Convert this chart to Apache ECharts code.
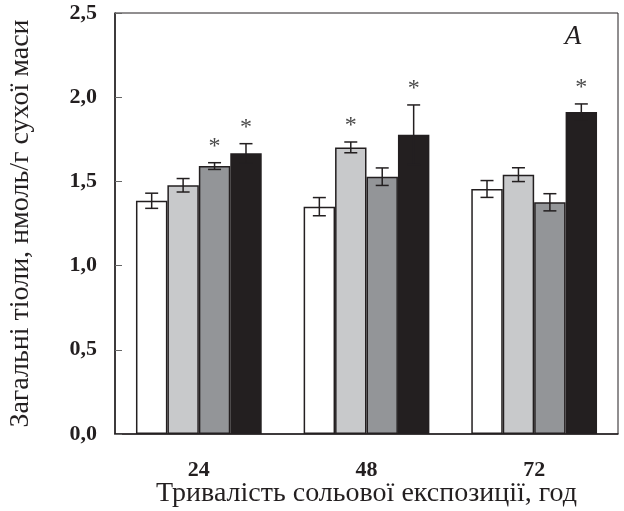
<!DOCTYPE html>
<html>
<head>
<meta charset="utf-8">
<script src="https://cdn.jsdelivr.net/npm/echarts@6/dist/echarts.min.js"></script>
<style>html,body{margin:0;padding:0;background:#fff;}#c{width:624px;height:511px;}</style>
</head>
<body>
<div id="c"></div>
<script>
const categories = ['24', '48', '72'];
const yTicks = [0, 0.5, 1.0, 1.5, 2.0, 2.5];
const seriesNames = ['s1', 's2', 's3', 's4'];
const valuesWhite = [1.385, 1.350, 1.455];
const valuesLight = [1.477, 1.702, 1.540];
const valuesDark  = [1.591, 1.528, 1.376];
const valuesBlack = [1.667, 1.777, 1.912];
const errWhite = [0.045, 0.054, 0.050];
const errLight = [0.040, 0.032, 0.041];
const errDark  = [0.020, 0.052, 0.051];
const errBlack = [0.057, 0.177, 0.048];
const sigWhite = [0, 0, 0];
const sigLight = [0, 1, 0];
const sigDark  = [1, 0, 0];
const sigBlack = [1, 1, 1];
const yAxisTitle = 'Загальні тіоли, нмоль/г сухої маси';
const xAxisTitle = 'Тривалість сольової експозиції, год';
const panelLabel = 'A';

const colors = ['#ffffff', '#c8c9cb', '#939598', '#231f20'];
const vals = [valuesWhite, valuesLight, valuesDark, valuesBlack];
const errs = [errWhite, errLight, errDark, errBlack];
const sigs = [sigWhite, sigLight, sigDark, sigBlack];
const SERIF = '"Liberation Serif", "DejaVu Serif", serif';
const CAT_GAP = 0.25;

const series = [];
vals.forEach((v, i) => {
  series.push({
    name: seriesNames[i], type: 'bar', data: v,
    barGap: '0%', barCategoryGap: (CAT_GAP * 100) + '%',
    itemStyle: { color: colors[i], borderColor: '#231f20', borderWidth: 1.5 },
    z: 2
  });
});
vals.forEach((v, i) => {
  series.push({
    type: 'custom', z: 5, clip: false,
    data: v.map((val, k) => [k, val, errs[i][k], sigs[i][k]]),
    encode: { x: 0, y: 1 },
    renderItem: function (params, api) {
      const cat = api.value(0), val = api.value(1), e = api.value(2), s = api.value(3);
      const band = api.size([1, 0])[0];
      const bw = band * (1 - CAT_GAP) / 4;
      const c = api.coord([cat, val]);
      const x = c[0] + (i - 1.5) * bw;
      const yt = api.coord([cat, val + e])[1];
      const yb = api.coord([cat, val - e])[1];
      const cap = 6.5;
      const st = { stroke: '#231f20', lineWidth: 1.5 };
      const ch = [
        { type: 'line', shape: { x1: x, y1: yt, x2: x, y2: yb }, style: st },
        { type: 'line', shape: { x1: x - cap, y1: yt, x2: x + cap, y2: yt }, style: st },
        { type: 'line', shape: { x1: x - cap, y1: yb, x2: x + cap, y2: yb }, style: st }
      ];
      if (s) {
        ch.push({ type: 'text', style: { text: '*', x: x, y: yt - 16, align: 'center', verticalAlign: 'middle',
          fontFamily: SERIF, fontSize: 24, fill: '#4a4a4a' } });
      }
      return { type: 'group', children: ch };
    }
  });
});

const chart = echarts.init(document.getElementById('c'), null, { renderer: 'canvas' });
chart.setOption({
  animation: false,
  backgroundColor: '#ffffff',
  grid: { left: 115, right: 6, top: 13, bottom: 77, containLabel: false, outerBoundsMode: 'none',
    show: true, borderColor: '#231f20', borderWidth: 1, backgroundColor: 'transparent' },
  xAxis: {
    type: 'category', data: categories,
    axisLine: { show: true, lineStyle: { color: '#231f20', width: 1.5 } },
    axisTick: { show: false },
    axisLabel: { margin: 25, fontFamily: SERIF, fontWeight: 'bold', fontSize: 22, color: '#231f20' },
    name: xAxisTitle, nameLocation: 'middle', nameGap: 46, nameMoveOverlap: false,
    nameTextStyle: { fontFamily: SERIF, fontSize: 28, color: '#231f20' }
  },
  yAxis: {
    type: 'value', min: yTicks[0], max: yTicks[yTicks.length - 1], interval: yTicks[1] - yTicks[0],
    splitLine: { show: false },
    axisLine: { show: true, lineStyle: { color: '#231f20', width: 1.5 } },
    axisTick: { show: true, inside: true, length: 7, lineStyle: { color: '#666' } },
    axisLabel: { margin: 18, fontFamily: SERIF, fontWeight: 'bold', fontSize: 22, color: '#231f20',
      formatter: v => v.toFixed(1).replace('.', ',') },
    name: yAxisTitle, nameLocation: 'middle', nameGap: 80, nameMoveOverlap: false,
    nameTextStyle: { fontFamily: SERIF, fontSize: 28, color: '#231f20' }
  },
  graphic: [{
    type: 'text', x: 573, y: 37,
    style: { text: panelLabel, align: 'center', verticalAlign: 'middle', fontFamily: SERIF, fontStyle: 'italic', fontSize: 27, fill: '#231f20' }
  }],
  series: series
});
</script>
</body>
</html>
